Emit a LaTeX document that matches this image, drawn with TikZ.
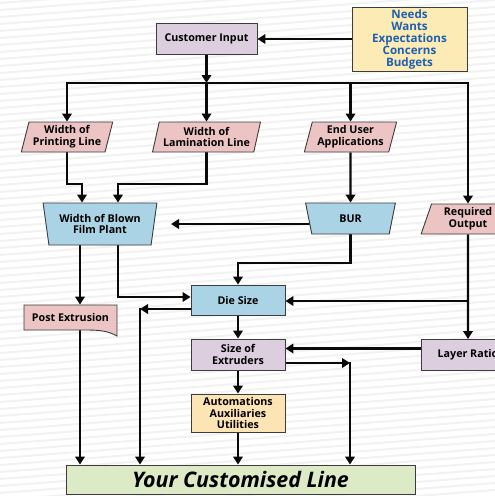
\documentclass[tikz,border=0pt]{standalone}
\usepackage{fontspec}
\setmainfont{Open Sans}
\usetikzlibrary{shapes.geometric,arrows.meta,calc}
\definecolor{lav}{RGB}{220,206,222}
\definecolor{pinkc}{RGB}{236,196,196}
\definecolor{bluec}{RGB}{170,212,230}
\definecolor{yel}{RGB}{253,235,182}
\definecolor{org}{RGB}{253,228,180}
\definecolor{grn}{RGB}{220,235,198}
\definecolor{txtblue}{RGB}{30,95,175}
\definecolor{edgec}{RGB}{60,60,60}
\definecolor{linec}{RGB}{10,10,10}
\pgfdeclarelayer{back}
\pgfdeclarelayer{mid}
\pgfsetlayers{back,mid,main}
\begin{document}
\begin{tikzpicture}[x=1pt,y=-1pt,
 box/.style={draw=edgec,line width=0.9pt,inner sep=0pt,align=center,font=\bfseries\fontsize{10.7}{11.8}\selectfont},
 rect/.style={box,rectangle},
 para/.style={box,trapezium,trapezium left angle=73,trapezium right angle=107,trapezium stretches=true},
 trap/.style={box,trapezium,trapezium left angle=77,trapezium right angle=77,shape border rotate=180,trapezium stretches=true},
 arr/.style={draw=linec,line width=2.4pt,-{Triangle[length=8pt,width=9.5pt]}},
 stripe/.style={draw=black!5,line width=2pt},
]
\useasboundingbox (0,0) rectangle (495,496);
\begin{pgfonlayer}{back}
\fill[white] (0,0) rectangle (495,496);
\begin{scope}
\clip (0,0) rectangle (495,496);
\foreach \y in {-60,-53,...,580} \draw[stripe] (0,\y) -- (495,\y-38);
\end{scope}
\end{pgfonlayer}
\clip (0,0) rectangle (495,496);

% nodes
\node[rect,fill=lav,minimum width=101pt,minimum height=31pt] (cust) at (206.5,38.5) {Customer Input};
\node[rect,fill=yel,minimum width=115pt,minimum height=64pt,text=txtblue,font=\bfseries\fontsize{11.6}{12}\selectfont] (needs) at (409.5,39) {Needs\\Wants\\Expectations\\Concerns\\Budgets};
\node[para,fill=pinkc,minimum width=92pt,minimum height=30pt] (print) at (67,137) {Width of\\Printing Line};
\node[para,fill=pinkc,minimum width=109pt,minimum height=30pt] (lam) at (206.5,137) {Width of\\Lamination Line};
\node[para,fill=pinkc,minimum width=93pt,minimum height=30pt] (endu) at (350.5,137) {End User\\Applications};
\node[para,fill=pinkc,minimum width=94pt,minimum height=30pt] (reqo) at (468,219) {Required\\Output};
\node[trap,fill=bluec,minimum width=114pt,minimum height=42pt] (wbf) at (100,224) {Width of Blown\\Film Plant};
\node[trap,fill=bluec,minimum width=90pt,minimum height=31pt] (bur) at (350.5,218.5) {BUR};
\node[rect,fill=bluec,minimum width=94pt,minimum height=30pt] (die) at (238,300) {Die Size};
\filldraw[fill=pinkc,draw=edgec,line width=0.9pt] (24,305) -- (117,305) -- (117,336) .. controls (108,331) and (100,330) .. (86,330) -- (24,330) -- cycle;
\node[box,draw=none,minimum width=93pt,minimum height=25pt] (post) at (70.5,317.5) {Post Extrusion};
\node[rect,fill=lav,minimum width=94pt,minimum height=31pt] (soe) at (238,354.5) {Size of\\Extruders};
\node[rect,fill=lav,minimum width=94pt,minimum height=31pt] (layer) at (468,355) {Layer Ratio};
\node[rect,fill=org,minimum width=94pt,minimum height=38pt,font=\bfseries\fontsize{10.7}{11.3}\selectfont] (auto) at (238,413) {Automations\\Auxiliaries\\Utilities};
\node[rect,fill=grn,minimum width=349pt,minimum height=29pt,font=\bfseries\itshape\fontsize{21.4}{23}\selectfont] (line) at (240.5,479.5) {Your Customised Line};

% connectors
\coordinate (bus) at (0,83);
\coordinate (j1) at (82,184);
\coordinate (j2) at (118,184);
\coordinate (bt) at (171,224);
\coordinate (k) at (0,263);
\coordinate (x80) at (80,0);
\coordinate (p) at (118,297);
\coordinate (c1) at (140,309);
\coordinate (r) at (468,301);
\coordinate (l) at (0,348.5);
\coordinate (c2) at (350,363);
\begin{pgfonlayer}{mid}
\draw[arr] (needs.west) -- (needs.west -| cust.east);
\draw[arr] (cust.south) -- (cust.south |- bus);
\draw[arr] (lam.north |- bus) -| (print.north);
\draw[arr] (lam.north |- bus) -| (reqo.north);
\draw[arr] (lam.north |- bus) -- (lam.north);
\draw[arr] (endu.north |- bus) -- (endu.north);
\draw[arr] (print.south) |- (j1) -- (j1 |- wbf.north);
\draw[arr] (lam.south) |- (j2) -- (j2 |- wbf.north);
\draw[arr] (endu.south) -- (bur.north);
\draw[arr] (bur.center |- bt) -- (bt);
\draw[arr] (bur.south) |- (die.north |- k) -- (die.north);
\draw[arr] (x80 |- wbf.south) -- (x80 |- post.north);
\draw[arr] (p |- wbf.south) |- (die.west |- p);
\draw[arr] (die.center |- c1) -- (c1);
\draw[arr] ([yshift=1.2pt]c1) -- (c1 |- line.north);
\draw[arr] (reqo.south) -- (layer.north);
\draw[arr] (r) -- (die.east |- r);
\draw[arr] (die.south) -- (soe.north);
\draw[arr] (layer.center |- l) -- (soe.east |- l);
\draw[arr] (soe.center |- c2) -- (c2);
\draw[arr] ([yshift=1.2pt]c2) -- (c2 |- line.north);
\draw[arr] (soe.south) -- (auto.north);
\draw[arr] (auto.south) -- (auto.south |- line.north);
\draw[arr] (x80 |- post.center) -- (x80 |- line.north);
\end{pgfonlayer}
\end{tikzpicture}
\end{document}
